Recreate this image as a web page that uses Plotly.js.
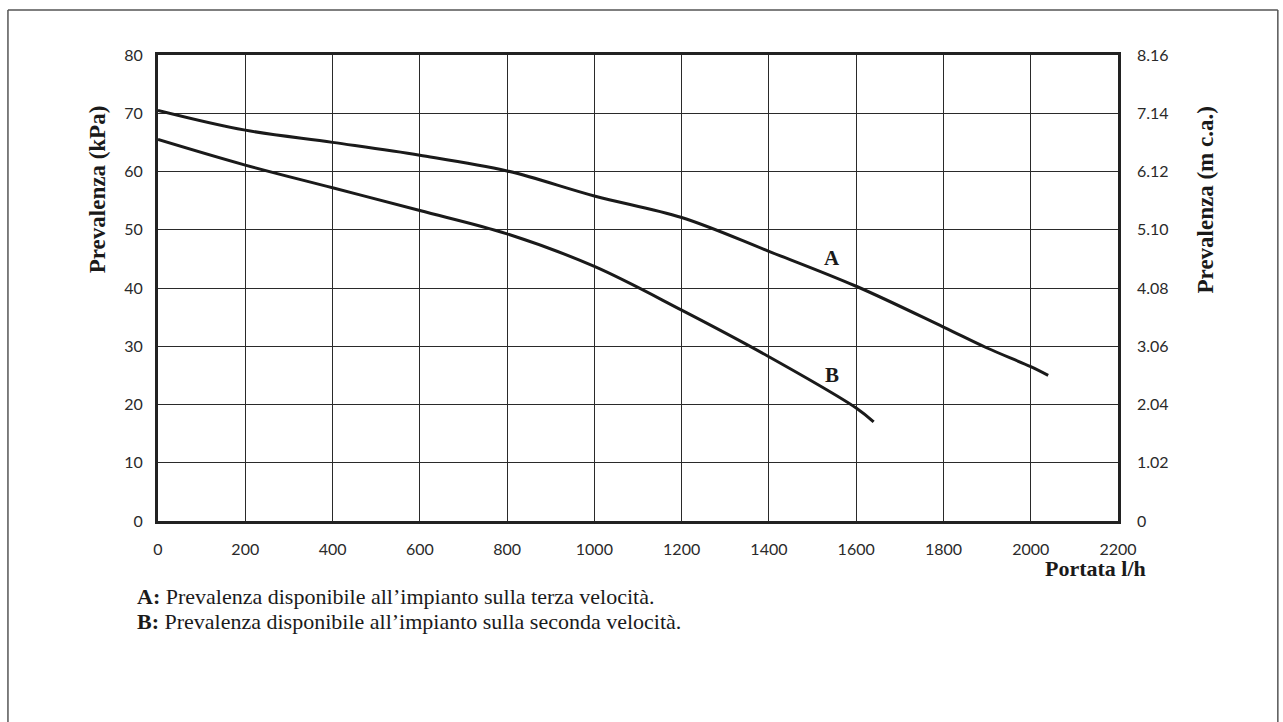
<!DOCTYPE html>
<html>
<head>
<meta charset="utf-8">
<script src="https://cdn.plot.ly/plotly-3.0.1.min.js"></script>
<style>html,body{margin:0;padding:0;background:#fff;}#chart{width:1283px;height:722px;}</style>
</head>
<body>
<div id="chart"></div>
<script>
// Portata (l/h) and Prevalenza (kPa)
var flowA = [0, 200, 400, 600, 800, 1000, 1200, 1400, 1600, 1800, 1900, 2000, 2040];
var headA = [70.5, 67.1, 65.0, 62.8, 60.1, 55.8, 52.1, 46.3, 40.3, 33.3, 29.7, 26.5, 25.0];
var flowB = [0, 200, 400, 600, 800, 1000, 1200, 1400, 1600, 1640];
var headB = [65.5, 61.1, 57.2, 53.3, 49.3, 43.7, 36.2, 28.2, 19.4, 17.0];

var xTicks = [0, 200, 400, 600, 800, 1000, 1200, 1400, 1600, 1800, 2000, 2200];
var yTicksKPa = [0, 10, 20, 30, 40, 50, 60, 70, 80];
var yTicksMca = [0, 1.02, 2.04, 3.06, 4.08, 5.10, 6.12, 7.14, 8.16];
var yTickTextMca = ["0", "1.02", "2.04", "3.06", "4.08", "5.10", "6.12", "7.14", "8.16"];

var curveLabels = ["A", "B"];
var curveLabelX = [1545, 1545];
var curveLabelY = [45.2, 25.1];

var legendText = [
  "<b>A:</b> Prevalenza disponibile all\u2019impianto sulla terza velocit\u00e0.",
  "<b>B:</b> Prevalenza disponibile all\u2019impianto sulla seconda velocit\u00e0."
];

var tickFont = {family: "Lato, 'Open Sans', sans-serif", size: 16, color: "#2a2a2a"};
var serif = "'Liberation Serif', 'DejaVu Serif', serif";

var traces = [
  {x: flowA, y: headA, mode: "lines", line: {color: "#1a1a1a", width: 3, shape: "spline", smoothing: 1}, hoverinfo: "skip", showlegend: false},
  {x: flowB, y: headB, mode: "lines", line: {color: "#1a1a1a", width: 3, shape: "spline", smoothing: 1}, hoverinfo: "skip", showlegend: false},
  {x: [0], y: [0], yaxis: "y2", mode: "markers", marker: {opacity: 0}, hoverinfo: "skip", showlegend: false}
];

var annotations = [];
for (var i = 0; i < curveLabels.length; i++) {
  annotations.push({x: curveLabelX[i], y: curveLabelY[i], xref: "x", yref: "y", text: "<b>" + curveLabels[i] + "</b>",
    xanchor: "center", yanchor: "middle", showarrow: false, font: {family: serif, size: 21, color: "#1a1a1a"}});
}
annotations.push({x: -0.0635, y: 0.712, xref: "paper", yref: "paper", text: "<b>Prevalenza (kPa)</b>", textangle: -90,
  xanchor: "center", yanchor: "middle", showarrow: false, font: {family: serif, size: 23, color: "#1a1a1a"}});
annotations.push({x: 1.0906, y: 0.69, xref: "paper", yref: "paper", text: "<b>Prevalenza (m c.a.)</b>", textangle: -90,
  xanchor: "center", yanchor: "middle", showarrow: false, font: {family: serif, size: 23, color: "#1a1a1a"}});
annotations.push({x: 0.977, y: -0.1009, xref: "paper", yref: "paper", text: "<b>Portata l/h</b>",
  xanchor: "center", yanchor: "middle", showarrow: false, font: {family: serif, size: 22, color: "#1a1a1a"}});
annotations.push({x: -0.024, y: -0.161, xref: "paper", yref: "paper", xanchor: "left", yanchor: "middle", text: legendText[0],
  showarrow: false, font: {family: serif, size: 22, color: "#1a1a1a"}});
annotations.push({x: -0.024, y: -0.2167, xref: "paper", yref: "paper", xanchor: "left", yanchor: "middle", text: legendText[1],
  showarrow: false, font: {family: serif, size: 22, color: "#1a1a1a"}});

var layout = {
  width: 1283, height: 722,
  margin: {l: 158, r: 165, t: 55, b: 201, pad: 0},
  paper_bgcolor: "#fff", plot_bgcolor: "#fff",
  showlegend: false,
  xaxis: {range: [0, 2200], tickvals: xTicks, showgrid: true, gridcolor: "#2a2a2a", gridwidth: 1,
    showline: true, linecolor: "#222", linewidth: 3, mirror: true, zeroline: false, ticks: "",
    tickfont: tickFont, ticklabelstandoff: 12, fixedrange: true},
  yaxis: {range: [0, 80], tickvals: yTicksKPa, showgrid: true, gridcolor: "#2a2a2a", gridwidth: 1,
    showline: true, linecolor: "#222", linewidth: 3, mirror: true, zeroline: false, ticks: "",
    tickfont: tickFont, ticklabelstandoff: 9, fixedrange: true},
  yaxis2: {range: [0, 8.16], overlaying: "y", side: "right", tickvals: yTicksMca, ticktext: yTickTextMca,
    showgrid: false, showline: false, zeroline: false, ticks: "", tickfont: tickFont, ticklabelstandoff: 18, fixedrange: true},
  annotations: annotations,
  shapes: [
    {type: "line", xref: "paper", yref: "paper", x0: -0.1563, x1: -0.1563, y0: 1.0966, y1: -0.45, line: {color: "#555", width: 1.5}},
    {type: "line", xref: "paper", yref: "paper", x0: -0.1563, x1: 1.1665, y0: 1.0966, y1: 1.0966, line: {color: "#555", width: 1.5}},
    {type: "line", xref: "paper", yref: "paper", x0: 1.1665, x1: 1.1665, y0: 1.0966, y1: -0.45, line: {color: "#555", width: 1.5}}
  ]
};

Plotly.newPlot("chart", traces, layout, {displayModeBar: false, staticPlot: true});
</script>
</body>
</html>
